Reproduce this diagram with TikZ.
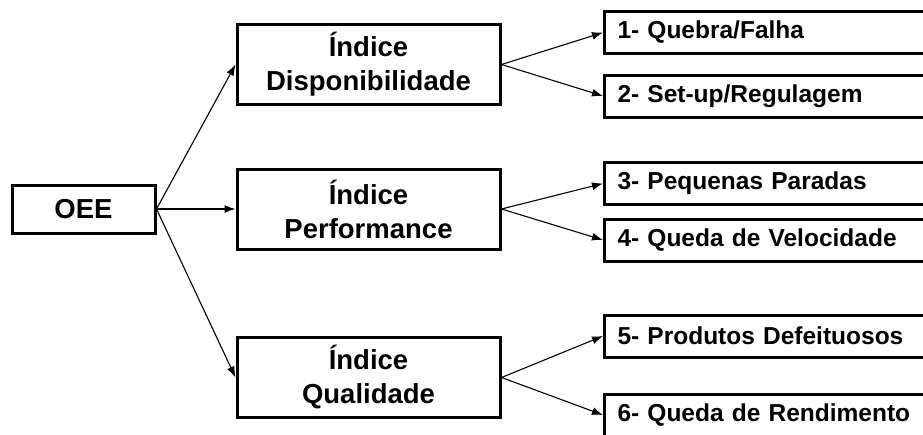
\documentclass[tikz,border=0pt]{standalone}
\usepackage{fontspec}
\setmainfont{Liberation Sans}
\usepackage{tikz}
\usetikzlibrary{positioning,arrows.meta}

\tikzset{
    box/.style={draw, line width=3pt, fill=white},
    oeebox/.style={box, minimum width=143pt, minimum height=48pt, font=\fontsize{27.5}{30}\selectfont\bfseries},
    indexbox/.style={box, minimum width=263pt, minimum height=80pt, align=center, font=\fontsize{27.5}{34}\selectfont\bfseries},
    itembox/.style={box, anchor=west, minimum height=42pt, text width=320pt, inner xsep=13pt, align=left, font=\fontsize{24.5}{27}\selectfont\bfseries},
    conn/.style={line width=1.1pt, -{Latex[length=11pt,width=8pt]}}
}

\begin{document}
\begin{tikzpicture}[x=1pt, y=-1pt]
    \clip (0,0) rectangle (923,434);
    \fill[white] (0,0) rectangle (923,434);

    \node[oeebox] (oee) at (83.5,209) {OEE};

    \node[indexbox] (disp) at (368.5,64.5) {Índice\\Disponibilidade};
    \node[indexbox] (perf) at (368.5,209) {Índice\\Performance};
    \node[indexbox] (qual) at (368.5,377.5) {Índice\\Qualidade};

    \node[itembox] (f1) at (603,32.5) {1- Quebra/Falha};
    \node[itembox] (f2) at (603,96) {2- Set-up/Regulagem};
    \node[itembox] (f3) at (603,183.5) {3- Pequenas Paradas};
    \node[itembox] (f4) at (603,240) {4- Queda de Velocidade};
    \node[itembox] (f5) at (603,336) {5- Produtos Defeituosos};
    \node[itembox] (f6) at (603,415) {6- Queda de Rendimento};

    \draw[conn] (oee.east) -- (disp.west);
    \draw[conn] (oee.east) -- (perf.west);
    \draw[conn] (oee.east) -- (qual.west);

    \draw[conn] (disp.east) -- (f1.west);
    \draw[conn] (disp.east) -- (f2.west);
    \draw[conn] (perf.east) -- (f3.west);
    \draw[conn] (perf.east) -- (f4.west);
    \draw[conn] (qual.east) -- (f5.west);
    \draw[conn] (qual.east) -- (f6.west);
\end{tikzpicture}
\end{document}
